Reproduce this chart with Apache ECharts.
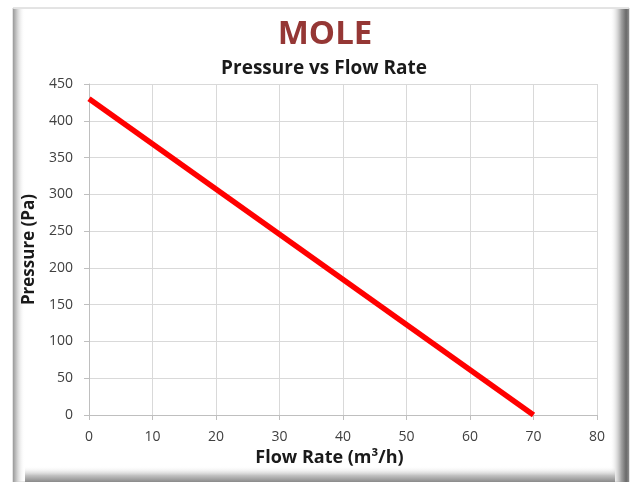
<!DOCTYPE html>
<html>
<head>
<meta charset="utf-8">
<script src="https://cdn.jsdelivr.net/npm/echarts@6/dist/echarts.min.js"></script>
<style>html,body{margin:0;padding:0;background:#fff;}#c{width:631px;height:482px;}</style>
</head>
<body>
<div id="c"></div>
<script>
var chartTitle = 'MOLE';
var chartSubtitle = 'Pressure vs Flow Rate';
var xAxisTitle = 'Flow Rate (m\u00B3/h)';
var yAxisTitle = 'Pressure (Pa)';
var flowRate = [0, 70];
var pressure = [430, 0];

var FONT = '"Open Sans", Lato, sans-serif';
var chart = echarts.init(document.getElementById('c'), null, {renderer: 'canvas'});
var data = flowRate.map(function (x, i) { return [x, pressure[i]]; });

chart.setOption({
  backgroundColor: '#ffffff',
  animation: false,
  graphic: [
    {type: 'rect', z: -10, shape: {x: 13, y: 8, width: 616, height: 474}, style: {fill: '#ffffff', stroke: '#c8c8c8', lineWidth: 1}},
    {type: 'rect', z: -9, shape: {x: 13, y: 9, width: 12, height: 473},
      style: {fill: new echarts.graphic.LinearGradient(0, 0, 1, 0, [{offset: 0, color: '#9a9a9a'}, {offset: 0.3, color: '#c8c8c8'}, {offset: 1, color: 'rgba(255,255,255,0)'}])}},
    {type: 'rect', z: -9, shape: {x: 610, y: 9, width: 19, height: 473},
      style: {fill: new echarts.graphic.LinearGradient(0, 0, 1, 0, [{offset: 0, color: 'rgba(255,255,255,0)'}, {offset: 0.6, color: '#a0a0a0'}, {offset: 0.85, color: '#6a6a6a'}, {offset: 1, color: '#8a8a8a'}])}},
    {type: 'rect', z: -9, shape: {x: 25, y: 466, width: 590, height: 16},
      style: {fill: new echarts.graphic.LinearGradient(0, 0, 0, 1, [{offset: 0, color: 'rgba(255,255,255,0)'}, {offset: 0.6, color: '#c0c0c0'}, {offset: 1, color: '#8a8a8a'}])}}
  ],
  title: [
    {text: chartTitle, left: 320, textAlign: 'center', top: 13,
      textStyle: {fontFamily: FONT, fontWeight: 'bold', fontSize: 33, color: '#953735'}},
    {text: chartSubtitle, left: 319, textAlign: 'center', top: 54,
      textStyle: {fontFamily: FONT, fontWeight: 'bold', fontSize: 19, color: '#1a1a1a'}}
  ],
  grid: {left: 89, right: 34, top: 84, bottom: 67},
  xAxis: {
    type: 'value', min: 0, max: 80, interval: 10,
    name: xAxisTitle, nameLocation: 'middle', nameGap: 33,
    nameTextStyle: {fontFamily: FONT, fontWeight: 'bold', fontSize: 18, color: '#1a1a1a', padding: [0, 27, 0, 0]},
    axisLine: {show: true, lineStyle: {color: '#bfbfbf', width: 1}},
    axisTick: {show: true, length: 5, lineStyle: {color: '#bfbfbf'}},
    axisLabel: {fontFamily: FONT, fontSize: 14, color: '#404040', margin: 15},
    splitLine: {show: true, lineStyle: {color: '#d9d9d9', width: 1}}
  },
  yAxis: {
    type: 'value', min: 0, max: 450, interval: 50,
    name: yAxisTitle, nameLocation: 'middle', nameGap: 47, nameRotate: 90,
    nameTextStyle: {fontFamily: FONT, fontWeight: 'bold', fontSize: 17, color: '#1a1a1a'},
    axisLine: {show: true, lineStyle: {color: '#bfbfbf', width: 1}},
    axisTick: {show: true, length: 5, lineStyle: {color: '#bfbfbf'}},
    axisLabel: {fontFamily: FONT, fontSize: 14, color: '#404040', margin: 16},
    splitLine: {show: true, lineStyle: {color: '#d9d9d9', width: 1}}
  },
  series: [{
    type: 'line', data: data, symbol: 'none', silent: true,
    lineStyle: {color: '#ff0000', width: 5.5, cap: 'butt'}
  }]
});
</script>
</body>
</html>
